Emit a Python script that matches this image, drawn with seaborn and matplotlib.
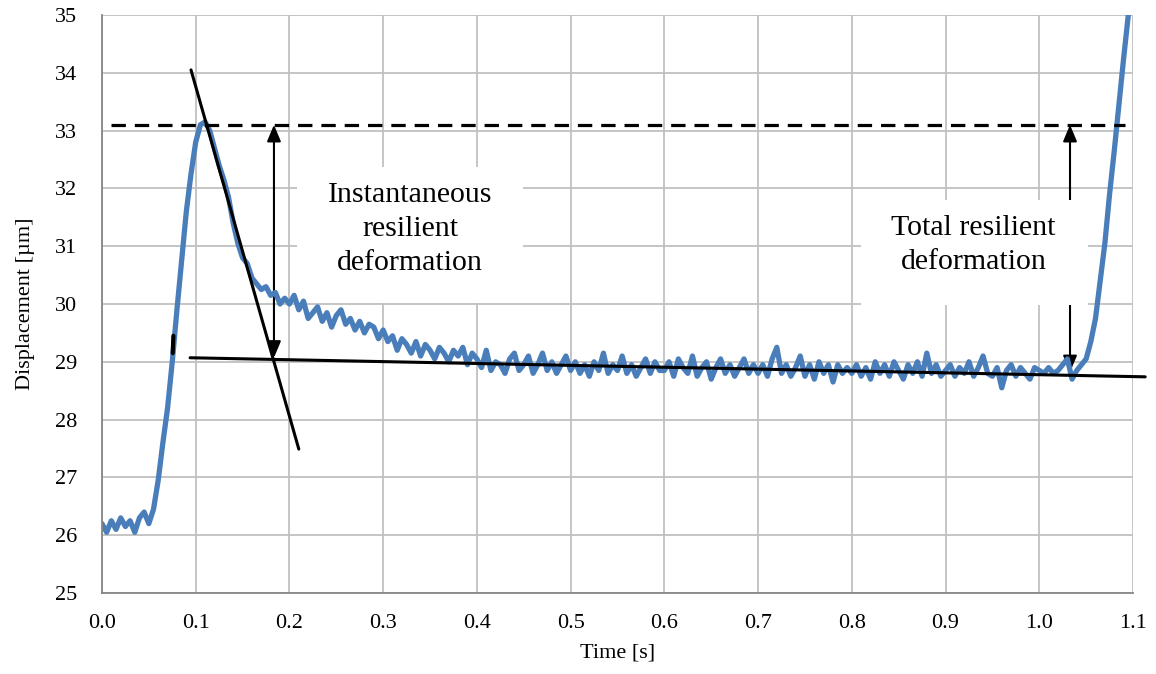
import numpy as np
import matplotlib.pyplot as plt
import matplotlib.patches as patches
import seaborn as sns

# sampled displacement signal, 5 ms steps, one array per 0.1 s
seg_000 = [26.20, 26.05, 26.25, 26.10, 26.30, 26.15, 26.25, 26.05, 26.30, 26.40,
           26.20, 26.45, 26.95, 27.60, 28.20, 29.00, 29.90, 30.75, 31.60, 32.25]
seg_010 = [32.80, 33.10, 33.15, 33.00, 32.70, 32.40, 32.15, 31.85, 31.40, 31.05,
           30.80, 30.70, 30.45, 30.35, 30.25, 30.30, 30.15, 30.20, 30.00, 30.10]
seg_020 = [30.00, 30.15, 29.90, 30.05, 29.75, 29.85, 29.95, 29.70, 29.85, 29.60,
           29.80, 29.90, 29.65, 29.75, 29.55, 29.70, 29.50, 29.65, 29.60, 29.40]
seg_030 = [29.55, 29.35, 29.45, 29.20, 29.40, 29.30, 29.15, 29.35, 29.10, 29.30,
           29.20, 29.05, 29.25, 29.15, 29.00, 29.20, 29.10, 29.25, 28.95, 29.15]
seg_040 = [29.05, 28.90, 29.20, 28.85, 29.00, 28.95, 28.80, 29.05, 29.15, 28.85,
           28.95, 29.10, 28.80, 28.95, 29.15, 28.85, 29.00, 28.80, 28.95, 29.10]
seg_050 = [28.85, 29.00, 28.80, 28.95, 28.75, 29.00, 28.85, 29.15, 28.80, 28.95,
           28.85, 29.10, 28.80, 28.95, 28.75, 28.90, 29.05, 28.80, 29.00, 28.85]
seg_060 = [28.85, 29.00, 28.75, 29.05, 28.90, 28.80, 29.10, 28.75, 28.90, 29.00,
           28.70, 28.90, 29.05, 28.80, 28.95, 28.75, 28.90, 29.05, 28.80, 28.95]
seg_070 = [28.80, 28.95, 28.75, 29.05, 29.25, 28.80, 28.95, 28.75, 28.90, 29.10,
           28.75, 28.95, 28.70, 29.00, 28.80, 28.95, 28.65, 28.95, 28.80, 28.90]
seg_080 = [28.80, 28.95, 28.75, 28.90, 28.70, 29.00, 28.80, 28.95, 28.75, 29.00,
           28.85, 28.70, 28.95, 28.80, 29.00, 28.75, 29.15, 28.80, 28.95, 28.75]
seg_090 = [28.85, 28.95, 28.75, 28.90, 28.80, 29.00, 28.75, 28.90, 29.10, 28.80,
           28.75, 28.90, 28.55, 28.85, 28.95, 28.75, 28.90, 28.80, 28.70, 28.90]
seg_100 = [28.85, 28.80, 28.90, 28.80, 28.85, 28.95, 29.05, 28.70, 28.85, 28.95,
           29.05, 29.35, 29.75, 30.40, 31.05, 31.90, 32.65, 33.45, 34.25, 35.00, 35.60]

disp = np.array(seg_000 + seg_010 + seg_020 + seg_030 + seg_040 + seg_050
                + seg_060 + seg_070 + seg_080 + seg_090 + seg_100)
time = np.round(np.arange(len(disp)) * 0.005, 3)

# construction lines
tangent_t = [0.095, 0.210]
tangent_y = [34.05, 27.49]
fit_t = [0.094, 1.113]
fit_y = [29.07, 28.74]
peak_level = 33.1
peak_t = [0.01, 1.092]
glitch_t = [0.0755, 0.0762]
glitch_y = [29.15, 29.45]
arrow_left = (0.1835, 29.07)
arrow_right = (1.0328, 28.82)

x_ticks = np.round(np.arange(0, 1.11, 0.1), 1)
y_ticks = np.arange(25, 36, 1)

sns.set_style("white")
plt.rcParams['font.family'] = ['Liberation Serif', 'DejaVu Serif']
plt.rcParams['text.color'] = 'black'
plt.rcParams['axes.labelcolor'] = 'black'

fig = plt.figure(figsize=(11.56, 6.74), dpi=100)
ax = fig.add_axes([0.0882, 0.1202, 0.8919, 0.8575])

sns.lineplot(x=time, y=disp, ax=ax, color="#4A7EBB", lw=3.8,
             estimator=None, sort=False, zorder=2)
ax.plot(glitch_t, glitch_y, color="black", lw=3, zorder=2.5)

ax.plot(tangent_t, tangent_y, color="black", lw=2.2, zorder=3)
ax.plot(fit_t, fit_y, color="black", lw=2.2, zorder=3, clip_on=False)
ax.plot(peak_t, [peak_level, peak_level], color="black", lw=2.3,
        dashes=(4.5, 2.8), zorder=3)

# double arrows
for ax_t, low in [arrow_left, arrow_right]:
    ax.annotate("", xy=(ax_t, peak_level), xytext=(ax_t, low),
                arrowprops=dict(arrowstyle="<|-|>,head_length=1.0,head_width=0.42",
                                mutation_scale=10, lw=1.5, color="black",
                                shrinkA=0, shrinkB=0), zorder=0.9)

# white label boxes hiding the grid
ax.add_patch(patches.Rectangle((0.2085, 30.02), 0.241, 2.35, facecolor="white",
                               edgecolor="none", zorder=1))
ax.add_patch(patches.Rectangle((0.810, 29.98), 0.242, 1.82, facecolor="white",
                               edgecolor="none", zorder=1))
ax.text(0.3286, 31.30, "Instantaneous\nresilient\ndeformation", ha="center",
        va="center", multialignment="center", fontsize=21.5, linespacing=1.4,
        color="black", zorder=4)
ax.text(0.930, 31.02, "Total resilient\ndeformation", ha="center",
        va="center", multialignment="center", fontsize=21.5, linespacing=1.4,
        color="black", zorder=4)

ax.set_xlim(0, 1.1)
ax.set_ylim(25, 35)
ax.set_xticks(x_ticks)
ax.set_xticklabels([f"{v:.1f}" for v in x_ticks])
ax.set_yticks(y_ticks)
ax.grid(True, color="#C0C0C0", lw=1.3)
ax.set_axisbelow(True)

for s in ["top", "right"]:
    ax.spines[s].set_visible(False)
for s in ["left", "bottom"]:
    ax.spines[s].set_color("#868686")
    ax.spines[s].set_linewidth(1.3)

ax.tick_params(axis="both", direction="out", length=7, width=1.3,
               color="#868686", labelsize=16, labelcolor="black")
ax.tick_params(axis="x", pad=8)
ax.tick_params(axis="y", pad=11)

ax.set_xlabel("Time [s]", fontsize=16, labelpad=8)
ax.set_ylabel("Displacement [µm]", fontsize=16, labelpad=14)

plt.savefig("out.png", dpi=100)
